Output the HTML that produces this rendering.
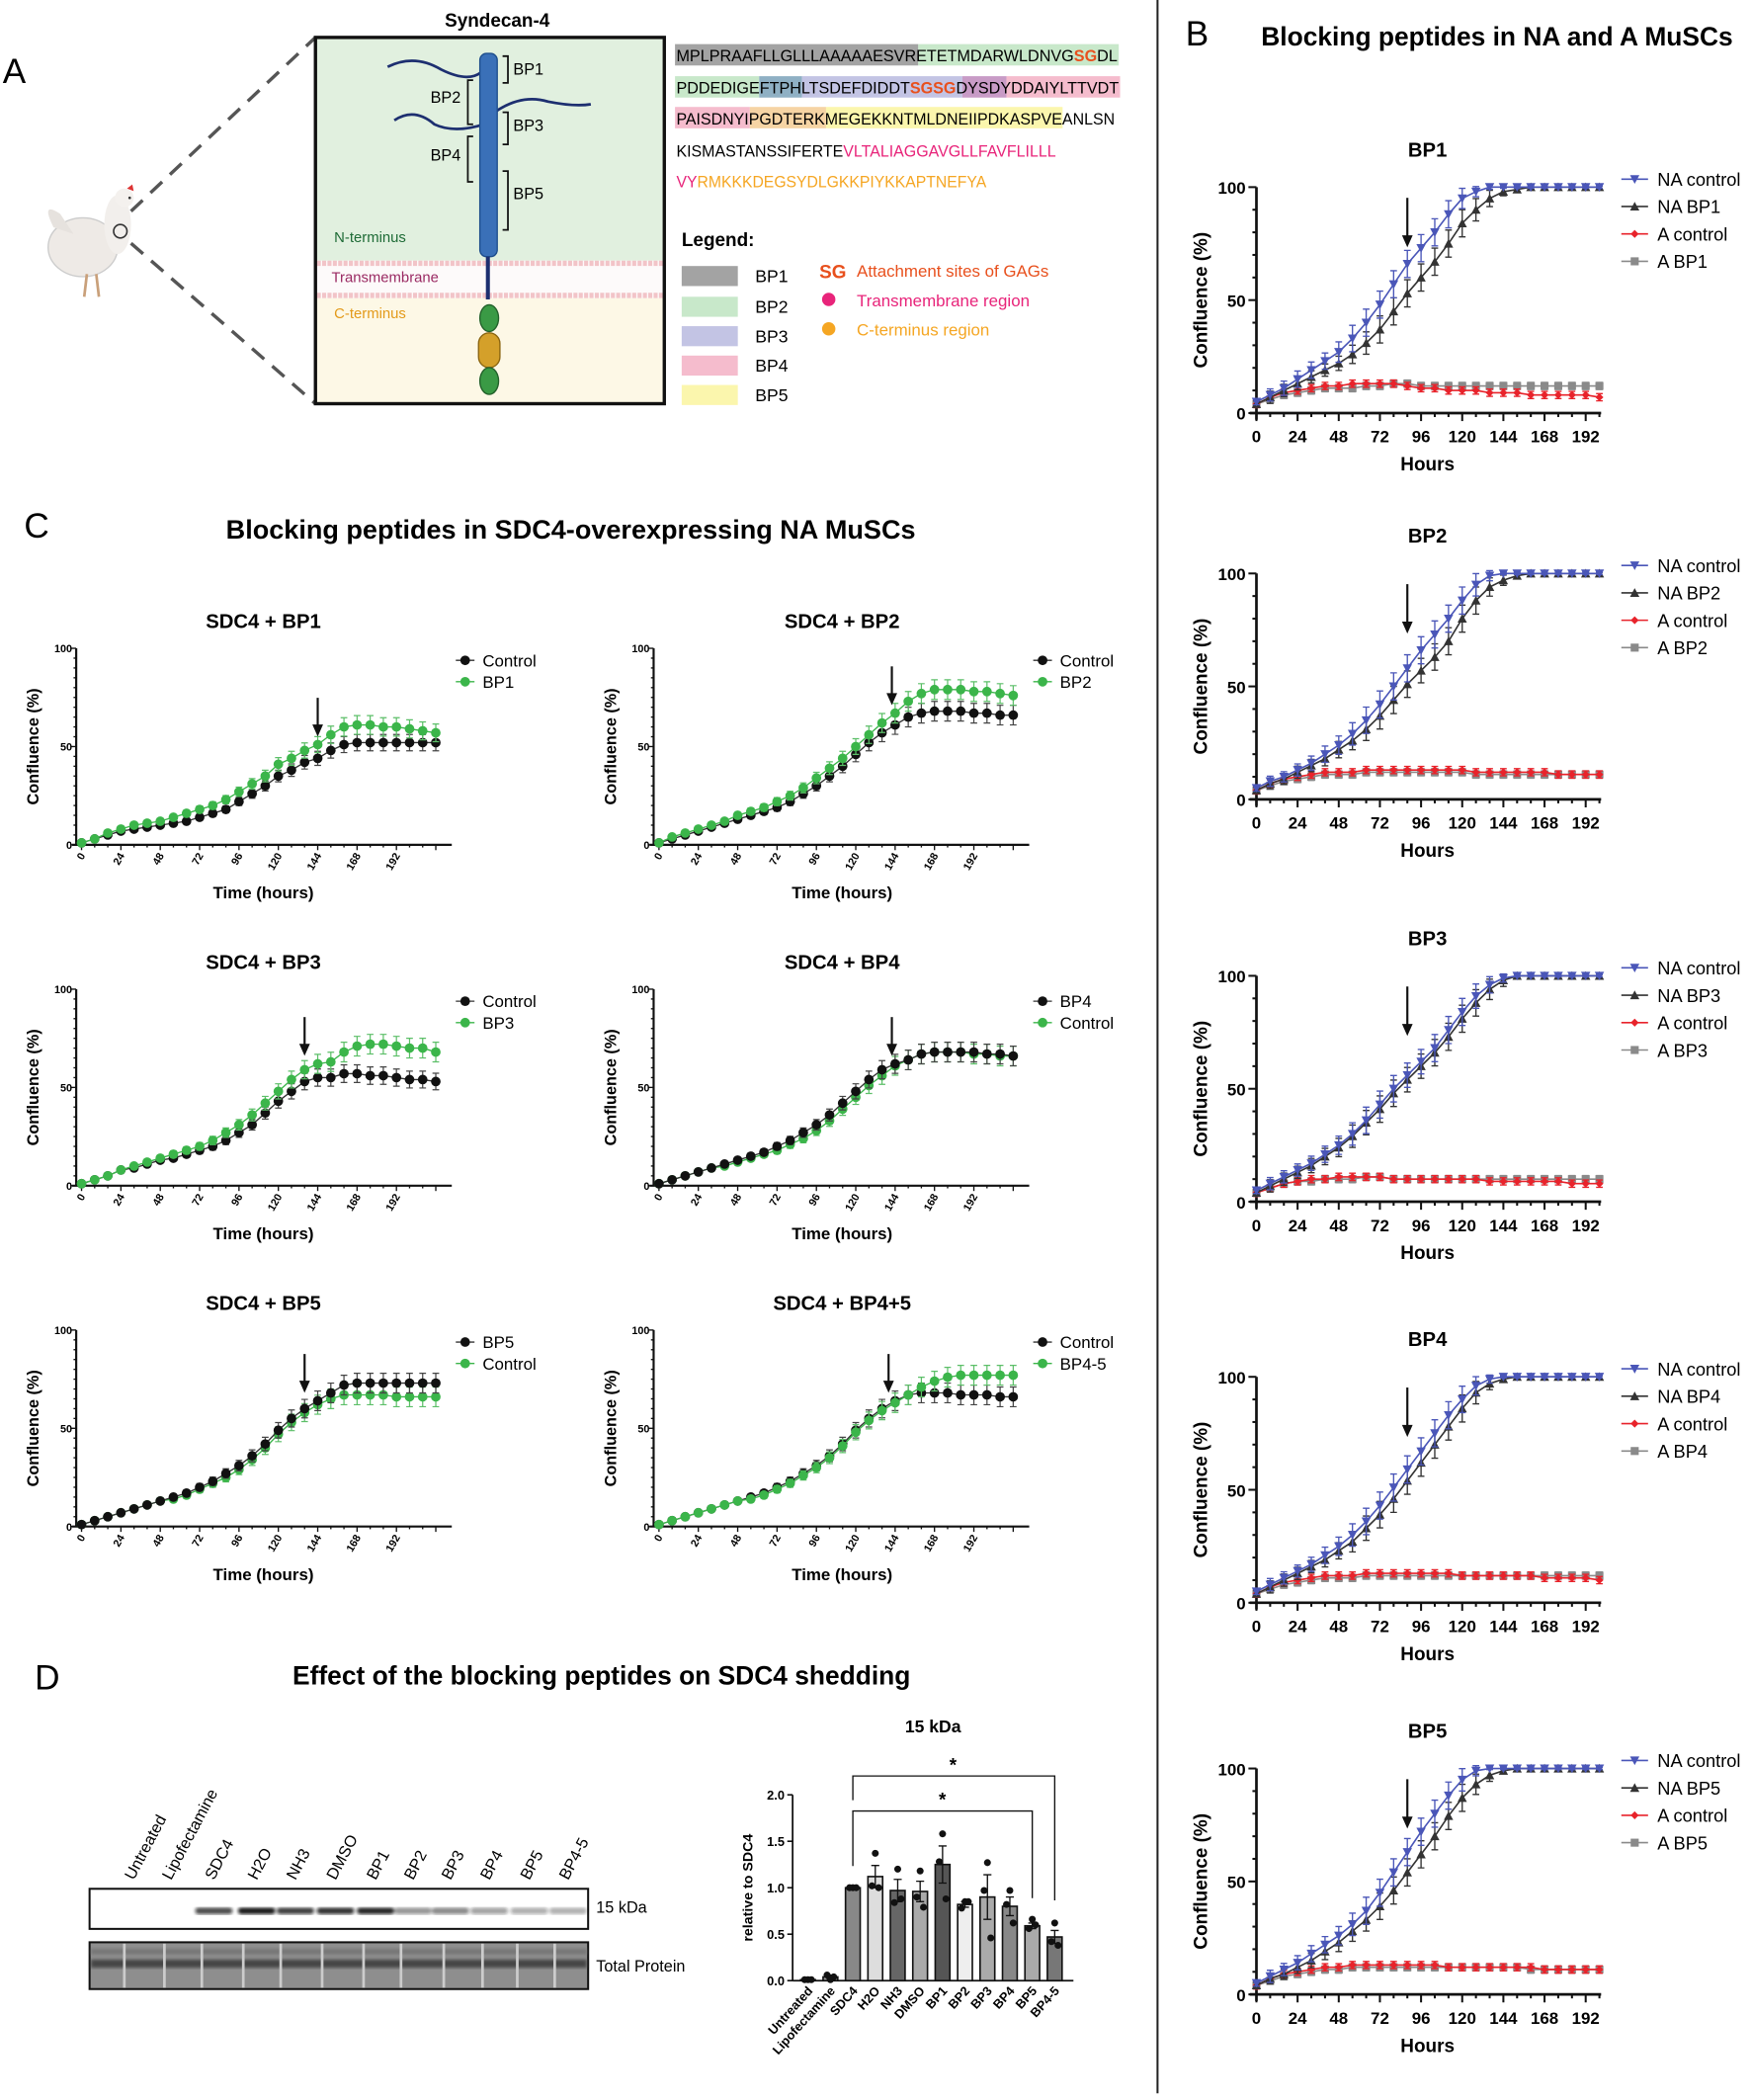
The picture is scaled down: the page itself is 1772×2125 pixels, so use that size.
<!DOCTYPE html>
<html><head><meta charset="utf-8"><style>
html,body{margin:0;padding:0;background:#fff}
svg{display:block}
text{font-family:"Liberation Sans",sans-serif}
</style></head><body>
<svg id="fig" xmlns="http://www.w3.org/2000/svg" width="1772" height="2125" viewBox="0 0 1310 1571">
<defs><filter id="blur"><feGaussianBlur stdDeviation="1.2"/></filter></defs>
<rect width="1310" height="1571" fill="#fff"/>
<text x="2" y="62" font-size="26">A</text>
<text x="887" y="34" font-size="26">B</text>
<text x="1120" y="34" font-size="19.5" font-weight="bold" text-anchor="middle">Blocking peptides in NA and A MuSCs</text>
<text x="18" y="402" font-size="26">C</text>
<text x="427" y="403" font-size="20" font-weight="bold" text-anchor="middle">Blocking peptides in SDC4-overexpressing NA MuSCs</text>
<text x="26" y="1264" font-size="26">D</text>
<text x="450" y="1260" font-size="19.5" font-weight="bold" text-anchor="middle">Effect of the blocking peptides on SDC4 shedding</text>
<line x1="866" y1="0" x2="866" y2="1566" stroke="#222" stroke-width="1.5"/>

<g>
 <g>
  <ellipse cx="62" cy="185" rx="26" ry="22" fill="#eeeae6" stroke="#ccc"/>
  <path d="M40 170 Q30 150 45 160 L55 175Z" fill="#e6e2de"/>
  <ellipse cx="88" cy="168" rx="10" ry="22" fill="#f2efec"/>
  <circle cx="93" cy="148" r="7" fill="#f4f1ee"/>
  <path d="M95 141 l4 -3 l1 5z" fill="#d33"/>
  <circle cx="97" cy="148" r="1" fill="#333"/>
  <line x1="65" y1="205" x2="63" y2="222" stroke="#c9a07a" stroke-width="2"/>
  <line x1="72" y1="205" x2="74" y2="222" stroke="#c9a07a" stroke-width="2"/>
  <circle cx="90" cy="173" r="5" fill="none" stroke="#333" stroke-width="1.2"/>
 </g>
 <line x1="98" y1="158" x2="236" y2="28" stroke="#555" stroke-width="2.5" stroke-dasharray="12,8"/>
 <line x1="98" y1="182" x2="236" y2="302" stroke="#555" stroke-width="2.5" stroke-dasharray="12,8"/>
 <text x="372" y="20" font-size="14" font-weight="bold" text-anchor="middle">Syndecan-4</text>
 <g>
  <rect x="236" y="28" width="261" height="167" fill="#e1f0df"/>
  <rect x="236" y="195" width="261" height="28" fill="#fdfafa"/>
  <rect x="236" y="223" width="261" height="79" fill="#fdf8e6"/>
  <line x1="237" y1="197" x2="496" y2="197" stroke="#f2c4c8" stroke-width="4" stroke-dasharray="3,1"/>
  <line x1="237" y1="221" x2="496" y2="221" stroke="#f2c4c8" stroke-width="4" stroke-dasharray="3,1"/>
  <rect x="236" y="28" width="261" height="274" fill="none" stroke="#111" stroke-width="2.5"/>
  <path d="M290 50 Q310 40 330 52 Q350 62 360 54" fill="none" stroke="#1d2f70" stroke-width="2"/>
  <path d="M295 90 Q310 80 325 93 Q340 100 362 93" fill="none" stroke="#1d2f70" stroke-width="2"/>
  <path d="M370 84 Q390 70 410 76 Q430 80 442 78" fill="none" stroke="#1d2f70" stroke-width="2"/>
  <rect x="359" y="40" width="13" height="152" rx="5" fill="#3a70b8" stroke="#1d4d8c"/>
  <line x1="365" y1="192" x2="365" y2="224" stroke="#1d2f70" stroke-width="3"/>
  <ellipse cx="366" cy="238" rx="7" ry="10" fill="#3a9a45" stroke="#22602a"/>
  <rect x="358" y="249" width="16" height="26" rx="8" fill="#d4a02a" stroke="#8a6410"/>
  <ellipse cx="366" cy="285" rx="7" ry="10" fill="#3a9a45" stroke="#22602a"/>
  <path d="M376 42 h4 v20 h-4" fill="none" stroke="#111" stroke-width="1.3"/>
  <text x="384" y="56" font-size="12">BP1</text>
  <path d="M354 60 h-4 v33 h4" fill="none" stroke="#111" stroke-width="1.3"/>
  <text x="322" y="77" font-size="12">BP2</text>
  <path d="M376 84 h4 v24 h-4" fill="none" stroke="#111" stroke-width="1.3"/>
  <text x="384" y="98" font-size="12">BP3</text>
  <path d="M354 102 h-4 v34 h4" fill="none" stroke="#111" stroke-width="1.3"/>
  <text x="322" y="120" font-size="12">BP4</text>
  <path d="M376 128 h4 v44 h-4" fill="none" stroke="#111" stroke-width="1.3"/>
  <text x="384" y="149" font-size="12">BP5</text>
  <text x="250" y="181" font-size="11" fill="#1e6b36">N-terminus</text>
  <text x="248" y="211" font-size="11" fill="#9a2a63">Transmembrane</text>
  <text x="250" y="238" font-size="11" fill="#e39a1a">C-terminus</text>
 </g>
 <g font-size="12.5">
  <rect x="505" y="33" width="182" height="16" fill="#a3a3a3"/>
  <rect x="687" y="33" width="150" height="16" fill="#c8e8ca"/>
  <rect x="505" y="57" width="63" height="16" fill="#c8e8ca"/>
  <rect x="568" y="57" width="32" height="16" fill="#8fb0c4"/>
  <rect x="600" y="57" width="120" height="16" fill="#c3c4e4"/>
  <rect x="720" y="57" width="33" height="16" fill="#c89bc6"/>
  <rect x="753" y="57" width="85" height="16" fill="#f5bccd"/>
  <rect x="505" y="80" width="56" height="16" fill="#f5bccd"/>
  <rect x="561" y="80" width="57" height="16" fill="#f6d4a4"/>
  <rect x="618" y="80" width="177" height="16" fill="#fbf6ad"/>
  <text x="506" y="46" textLength="330" lengthAdjust="spacingAndGlyphs">MPLPRAAFLLGLLLAAAAAESVRETETMDARWLDNVG<tspan fill="#e8501d" font-weight="bold">SG</tspan>DL</text>
  <text x="506" y="70" textLength="331" lengthAdjust="spacingAndGlyphs">PDDEDIGEFTPHLTSDEFDIDDT<tspan fill="#e8501d" font-weight="bold">SGSG</tspan>DYSDYDDAIYLTTVDT</text>
  <text x="506" y="93" textLength="328" lengthAdjust="spacingAndGlyphs">PAISDNYIPGDTERKMEGEKKNTMLDNEIIPDKASPVEANLSN</text>
  <text x="506" y="117" textLength="284" lengthAdjust="spacingAndGlyphs">KISMASTANSSIFERTE<tspan fill="#e8247a">VLTALIAGGAVGLLFAVFLILLL</tspan></text>
  <text x="506" y="140" textLength="232" lengthAdjust="spacingAndGlyphs"><tspan fill="#e8247a">VY</tspan><tspan fill="#f5a623">RMKKKDEGSYDLGKKPIYKKAPTNEFYA</tspan></text>
 </g>
 <g font-size="13">
  <text x="510" y="184" font-weight="bold" font-size="14">Legend:</text>
  <rect x="510" y="199" width="42" height="15" fill="#a3a3a3"/><text x="565" y="211">BP1</text>
  <rect x="510" y="222" width="42" height="15" fill="#c8e8ca"/><text x="565" y="234">BP2</text>
  <rect x="510" y="244" width="42" height="15" fill="#c3c4e4"/><text x="565" y="256">BP3</text>
  <rect x="510" y="266" width="42" height="15" fill="#f5bccd"/><text x="565" y="278">BP4</text>
  <rect x="510" y="288" width="42" height="15" fill="#fbf6ad"/><text x="565" y="300">BP5</text>
  <text x="613" y="208" fill="#e8501d" font-weight="bold" font-size="14">SG</text>
  <text x="641" y="207" fill="#e8501d" font-size="12.5">Attachment sites of GAGs</text>
  <circle cx="620" cy="224" r="5" fill="#e8247a"/><text x="641" y="229" fill="#e8247a" font-size="12.5">Transmembrane region</text>
  <circle cx="620" cy="246" r="5" fill="#f5a623"/><text x="641" y="251" fill="#f5a623" font-size="12.5">C-terminus region</text>
 </g>
</g>

<g>
 <g id="blotLabels" font-size="12"></g>
 <rect x="67" y="1413" width="373" height="30" fill="#fff" stroke="#111" stroke-width="1.5"/>
 <g id="bands" filter="url(#blur)"></g>
 <rect x="67" y="1453" width="373" height="35" fill="#8e8e8e" stroke="#111" stroke-width="1.5"/>
 <g filter="url(#blur)">
 <rect x="68" y="1466" width="371" height="6" fill="#333" opacity="0.8"/>
 <rect x="68" y="1458" width="371" height="4" fill="#666" opacity="0.6"/>
 </g>
 <g id="laneGaps"></g>
 <text x="446" y="1431" font-size="12">15 kDa</text>
 <text x="446" y="1475" font-size="12">Total Protein</text>
</g>
<g id="plots"></g>
</svg>
<script>
const hoursB = [0,8,16,24,32,40,48,56,64,72,80,88,96,104,112,120,128,136,144,152,160,168,176,184,192,200];
const bp1_naCtrl=[5,8,11,15,19,23,27,33,40,48,57,66,73,80,88,95,98,100,100,100,100,100,100,100,100,100];
const bp1_naBP=[4,7,10,13,16,19,22,26,31,37,45,53,60,67,75,84,90,95,98,99,100,100,100,100,100,100];
const bp1_aCtrl=[4,7,9,10,11,12,12,13,13,13,13,12,11,11,10,10,10,9,9,9,8,8,8,8,8,7];
const bp1_aBP=[4,6,8,9,10,11,11,11,12,12,13,13,12,12,12,12,12,12,12,12,12,12,12,12,12,12];
const bp2_naCtrl=[5,8,10,13,16,20,24,29,35,42,50,58,66,73,80,88,95,99,100,100,100,100,100,100,100,100];
const bp2_naBP=[4,7,9,12,15,18,22,26,31,37,44,51,57,63,70,80,88,94,97,99,100,100,100,100,100,100];
const bp2_aCtrl=[4,7,9,10,11,12,12,12,13,13,13,13,13,13,13,13,12,12,12,12,12,12,11,11,11,11];
const bp2_aBP=[4,6,8,9,10,11,11,11,12,12,12,12,12,12,12,12,11,11,11,11,11,11,11,11,11,11];
const bp3_naCtrl=[5,8,11,14,17,21,25,30,36,43,50,56,62,68,76,84,91,96,99,100,100,100,100,100,100,100];
const bp3_naBP=[4,7,10,13,16,20,24,29,35,41,48,54,60,66,73,81,88,94,98,100,100,100,100,100,100,100];
const bp3_aCtrl=[4,6,8,9,10,10,11,11,11,11,10,10,10,10,10,10,10,9,9,9,9,9,9,8,8,8];
const bp3_aBP=[4,6,8,9,9,10,10,10,11,11,10,10,10,10,10,10,10,10,10,10,10,10,10,10,10,10];
const bp4_naCtrl=[5,8,11,14,17,21,25,30,36,43,51,59,67,75,83,90,96,99,100,100,100,100,100,100,100,100];
const bp4_naBP=[4,7,10,13,16,19,23,27,33,39,46,54,62,70,78,86,93,97,99,100,100,100,100,100,100,100];
const bp4_aCtrl=[4,7,9,10,11,12,12,12,13,13,13,13,13,13,13,12,12,12,12,12,12,11,11,11,11,10];
const bp4_aBP=[4,6,8,9,10,11,11,11,12,12,12,12,12,12,12,12,12,12,12,12,12,12,12,12,12,12];
const bp5_naCtrl=[5,8,11,14,18,22,26,31,37,45,54,63,72,80,88,95,99,100,100,100,100,100,100,100,100,100];
const bp5_naBP=[4,7,9,12,15,19,23,28,33,39,46,54,62,70,79,87,93,97,99,100,100,100,100,100,100,100];
const bp5_aCtrl=[4,7,9,10,11,12,12,13,13,13,13,13,13,13,12,12,12,12,12,12,12,11,11,11,11,11];
const bp5_aBP=[4,6,8,9,10,11,11,12,12,12,12,12,12,12,12,12,12,12,12,12,11,11,11,11,11,11];
const bTitles=["BP1","BP2","BP3","BP4","BP5"];
const bTicks=[0,24,48,72,96,120,144,168,192];

const hoursC=[0,8,16,24,32,40,48,56,64,72,80,88,96,104,112,120,128,136,144,152,160,168,176,184,192,200,208,216];
const c1_black=[1,3,5,7,8,9,10,11,12,14,16,18,22,26,30,35,38,42,44,48,51,52,52,52,52,52,52,52];
const c1_green=[1,3,6,8,10,11,12,14,16,18,20,23,27,31,35,41,44,48,51,56,60,61,61,60,60,59,58,57];
const c2_black=[1,3,5,7,9,11,13,15,17,19,22,26,30,35,40,46,52,57,61,65,67,68,68,68,67,67,66,66];
const c2_green=[1,4,6,8,10,12,15,17,19,22,25,29,34,39,44,50,56,62,67,73,77,79,79,79,78,78,77,76];
const c3_black=[1,3,5,8,9,11,13,14,16,18,20,23,27,31,37,43,48,53,55,55,57,57,56,56,55,54,54,53];
const c3_green=[1,3,5,8,10,12,14,16,18,20,23,27,31,36,42,48,54,59,62,63,68,71,72,72,71,70,70,68];
const c4_black=[1,3,5,7,9,11,13,15,17,20,23,27,31,36,42,48,54,59,62,64,67,68,68,68,68,67,67,66];
const c4_green=[1,3,5,7,9,10,12,14,16,18,21,24,28,33,39,45,51,56,61,64,67,68,68,68,67,67,66,66];
const c5_black=[1,3,5,7,9,11,13,15,17,20,23,27,31,36,42,49,55,60,64,68,72,73,73,73,73,73,73,73];
const c5_green=[1,3,5,7,9,11,13,14,16,19,22,25,29,34,40,47,53,58,62,65,67,67,67,67,66,66,66,66];
const c6_black=[1,3,5,7,9,11,13,15,17,20,23,27,31,36,42,49,55,60,64,67,68,68,68,67,67,67,66,66];
const c6_green=[1,3,5,7,9,11,13,14,16,19,22,26,30,35,41,48,54,59,63,67,71,74,76,77,77,77,77,77];
const cTitles=["SDC4 + BP1","SDC4 + BP2","SDC4 + BP3","SDC4 + BP4","SDC4 + BP5","SDC4 + BP4+5"];
const cLegBlack=["Control","Control","Control","BP4","BP5","Control"];
const cLegGreen=["BP1","BP2","BP3","Control","Control","BP4-5"];
const cArrowHour=[144,142,136,142,136,140];
const cTicks=[0,24,48,72,96,120,144,168,192];

const dCategories=["Untreated","Lipofectamine","SDC4","H2O","NH3","DMSO","BP1","BP2","BP3","BP4","BP5","BP4-5"];
const dMeans=[0.01,0.04,1.0,1.12,0.97,0.96,1.25,0.82,0.9,0.8,0.59,0.47];
const dSem=[0,0.02,0.01,0.12,0.12,0.11,0.2,0.03,0.24,0.1,0.03,0.07];
const dPts1=[0.01,0.01,1.0,1.37,1.2,1.18,1.58,0.85,1.27,0.97,0.66,0.62];
const dPts2=[0.01,0.06,1.0,1.02,0.84,0.9,1.28,0.78,0.97,0.82,0.56,0.42];
const dPts3=[0.01,0.04,1.0,1.0,0.88,0.79,0.88,0.85,0.46,0.62,0.6,0.38];
const dShades=["#888","#999","#888","#ddd","#666","#aaa","#555","#eee","#aaa","#888","#aaa","#777"];
const dYTicks=[0,0.5,1.0,1.5,2.0];
const bandIntensity=[0,0,0.75,0.95,0.8,0.85,0.9,0.45,0.5,0.4,0.35,0.3];

const NS="http://www.w3.org/2000/svg";
const root=document.getElementById('plots');
function mk(tag,attrs,parent){const e=document.createElementNS(NS,tag);for(const k in attrs)e.setAttribute(k,attrs[k]);(parent||root).appendChild(e);return e;}
function txt(s,attrs,parent){const e=mk('text',attrs,parent);e.textContent=s;return e;}
function marker(shape,x,y,color,g){
  let e;
  if(shape==='down') e=mk('path',{d:`M${x-3.5} ${y-3} L${x+3.5} ${y-3} L${x} ${y+3.5}Z`,fill:color},g);
  else if(shape==='up') e=mk('path',{d:`M${x-3.5} ${y+3} L${x+3.5} ${y+3} L${x} ${y-3.5}Z`,fill:color},g);
  else if(shape==='diamond') e=mk('path',{d:`M${x} ${y-3} L${x+3} ${y} L${x} ${y+3} L${x-3} ${y}Z`,fill:color},g);
  else if(shape==='square') e=mk('rect',{x:x-3,y:y-3,width:6,height:6,fill:color},g);
  else e=mk('circle',{cx:x,cy:y,r:3.6,fill:color},g);
  return e;
}
function arrow(x,y1,y2,g){
  mk('line',{x1:x,y1:y1,x2:x,y2:y2-6,stroke:'#111','stroke-width':1.6},g);
  mk('path',{d:`M${x-4} ${y2-9} L${x+4} ${y2-9} L${x} ${y2}Z`,fill:'#111'},g);
}

const bTops=[140,429,730,1030,1323];
const bSeries=[[bp1_naCtrl,bp1_naBP,bp1_aCtrl,bp1_aBP],[bp2_naCtrl,bp2_naBP,bp2_aCtrl,bp2_aBP],[bp3_naCtrl,bp3_naBP,bp3_aCtrl,bp3_aBP],[bp4_naCtrl,bp4_naBP,bp4_aCtrl,bp4_aBP],[bp5_naCtrl,bp5_naBP,bp5_aCtrl,bp5_aBP]];
const bColors=["#4a56b8","#333","#e8232b","#8a8a8a"];
const bShapes=["down","up","diamond","square"];
bTitles.forEach((t,pi)=>{
  const g=mk('g',{});
  
  
  const y100=bTops[pi], y0=y100+169, X0=940, kx=1.283;
  const X=h=>X0+h*kx, Y=v=>y0-(v/100)*(y0-y100);
  const tt=txt(t,{x:1068,y:y100-23,'font-size':15,'font-weight':'bold','text-anchor':'middle'},g);
  
  
  mk('line',{x1:X0,y1:y100,x2:X0,y2:y0+5,stroke:'#111','stroke-width':2},g);
  mk('line',{x1:X0-5,y1:y0,x2:X(201),y2:y0,stroke:'#111','stroke-width':2},g);
  for(let v=0;v<=100;v+=10){mk('line',{x1:X0-(v%50?3:6),y1:Y(v),x2:X0,y2:Y(v),stroke:'#111','stroke-width':1.5},g);}
  [0,50,100].forEach(v=>txt(String(v),{x:X0-8,y:Y(v)+5,'font-size':12.5,'font-weight':'bold','text-anchor':'end'},g));
  for(let h=0;h<=200;h+=8){mk('line',{x1:X(h),y1:y0,x2:X(h),y2:y0+(h%24?3:6),stroke:'#111','stroke-width':1.5},g);}
  bTicks.forEach(h=>txt(String(h),{x:X(h),y:y0+22,'font-size':12.5,'font-weight':'bold','text-anchor':'middle'},g));
  const xl=txt('Hours',{x:1068,y:y0+43,'font-size':14,'font-weight':'bold','text-anchor':'middle'},g);
  
  
  const yl=txt('Confluence (%)',{x:0,y:0,'font-size':14,'font-weight':'bold','text-anchor':'middle',transform:`translate(903,${(y0+y100)/2}) rotate(-90)`},g);
  
  
  [3,2,1,0].forEach(si=>{
    const vals=bSeries[pi][si];
    const sg=mk('g',{},g);
    
    
    mk('polyline',{points:vals.map((v,i)=>X(hoursB[i])+','+Y(v)).join(' '),fill:'none',stroke:bColors[si],'stroke-width':1.2},sg);
    vals.forEach((v,i)=>{
      const e = si<2 ? Math.min(6,Math.max(0.5,(vals[Math.min(i+1,vals.length-1)]-vals[Math.max(i-1,0)])*0.45)) : 1.6;
      const x=X(hoursB[i]);
      mk('path',{d:`M${x} ${Y(v+e)} V${Y(v-e)} M${x-2.5} ${Y(v+e)} h5 M${x-2.5} ${Y(v-e)} h5`,stroke:bColors[si],'stroke-width':1,fill:'none'},sg);
      const m=marker(bShapes[si],x,Y(v),bColors[si],sg);
      
      
    });
  });
  arrow(X(88),y100+8,y100+45,g);
  const names=["NA control","NA "+t," A control","A "+t];
  if(pi>0) names[2]="A control";
  names.forEach((n,k)=>{
    const ly=y100-6+k*20.5;
    const lg=mk('g',{},g);
    
    
    mk('line',{x1:1213,y1:ly,x2:1233,y2:ly,stroke:bColors[k],'stroke-width':1.2},lg);
    marker(bShapes[k],1223,ly,bColors[k],lg);
    txt(n,{x:1240,y:ly+5,'font-size':13.5},lg);
  });
});

const cSeries=[[c1_black,c1_green],[c2_black,c2_green],[c3_black,c3_green],[c4_black,c4_green],[c5_black,c5_green],[c6_black,c6_green]];
const cTops=[485,740,995];
cTitles.forEach((t,pi)=>{
  const col=pi%2,row=Math.floor(pi/2);
  const g=mk('g',{});
  
  
  const AX=col?489:57, X0=AX+4, kx=1.227;
  const y100=cTops[row], y0=y100+147;
  const X=h=>X0+h*kx, Y=v=>y0-(v/100)*(y0-y100);
  const cx=col?630:197;
  const tt=txt(t,{x:cx,y:y100-15,'font-size':15,'font-weight':'bold','text-anchor':'middle'},g);
  
  
  mk('line',{x1:AX,y1:y100,x2:AX,y2:y0,stroke:'#111','stroke-width':1.6},g);
  mk('line',{x1:AX-3,y1:y0,x2:AX+281,y2:y0,stroke:'#111','stroke-width':1.6},g);
  for(let v=0;v<=100;v+=5){mk('line',{x1:AX-(v%50?2:4),y1:Y(v),x2:AX,y2:Y(v),stroke:'#111','stroke-width':1},g);}
  [0,50,100].forEach(v=>txt(String(v),{x:AX-3,y:Y(v)+3,'font-size':8,'font-weight':'bold','text-anchor':'end'},g));
  for(let h=0;h<=216;h+=8){mk('line',{x1:X(h),y1:y0,x2:X(h),y2:y0+(h%24?2:4),stroke:'#111','stroke-width':1},g);}
  cTicks.forEach(h=>txt(String(h),{x:0,y:0,'font-size':8,'font-weight':'bold','text-anchor':'end',transform:`translate(${X(h)+3},${y0+8}) rotate(-60)`},g));
  const xl=txt('Time (hours)',{x:cx,y:y0+40,'font-size':12.5,'font-weight':'bold','text-anchor':'middle'},g);
  
  
  const yl=txt('Confluence (%)',{x:0,y:0,'font-size':12,'font-weight':'bold','text-anchor':'middle',transform:`translate(${AX-28},${(y0+y100)/2}) rotate(-90)`},g);
  
  
  const cols=["#111","#3bb54a"];
  const order = (pi===3||pi===4)?[1,0]:[0,1];
  [order[0],order[1]].forEach(si=>{
    const vals=cSeries[pi][si];
    const sg=mk('g',{},g);
    
    
    mk('polyline',{points:vals.map((v,i)=>X(hoursC[i])+','+Y(v)).join(' '),fill:'none',stroke:si?'#3bb54a':'#333','stroke-width':1},sg);
    vals.forEach((v,i)=>{
      const e=Math.min(5,0.5+v*0.07);
      const x=X(hoursC[i]);
      mk('path',{d:`M${x} ${Y(v+e)} V${Y(v-e)} M${x-2.5} ${Y(v+e)} h5 M${x-2.5} ${Y(v-e)} h5`,stroke:si?'#5cbf68':'#444','stroke-width':0.9,fill:'none'},sg);
      const m=marker('circle',x,Y(v),cols[si],sg);
      
      
    });
  });
  arrow(X(cArrowHour[pi]),Y(Math.max(cSeries[pi][0][18],cSeries[pi][1][18]))-35,Y(Math.max(cSeries[pi][0][18],cSeries[pi][1][18]))-6,g);
  const lx=col?780:348;
  [[cLegBlack[pi],0],[cLegGreen[pi],1]].forEach(([n,k],j)=>{
    const ly=y100+9+j*16;
    const lg=mk('g',{},g);
    
    
    mk('line',{x1:lx-7,y1:ly,x2:lx+7,y2:ly,stroke:k?'#3bb54a':'#333','stroke-width':1},lg);
    marker('circle',lx,ly,cols[k],lg);
    txt(n,{x:lx+13,y:ly+4.5,'font-size':12.5},lg);
  });
});

const laneX=[100,128,160,192,221,251,281,309,337,366,396,425];
const bl=document.getElementById('blotLabels');
dCategories.forEach((c,i)=>{
  const e=txt(c,{x:0,y:0,transform:`translate(${laneX[i]},1407) rotate(-62)`,'font-size':12},bl);
  
  
});
const bandsG=document.getElementById('bands');
bandIntensity.forEach((v,i)=>{
  if(v<=0) return;
  const b=mk('rect',{x:laneX[i]-14,y:1427,width:28,height:5,rx:2.5,fill:'#111',opacity:v},bandsG);
  
  
});
const gaps=document.getElementById('laneGaps');
[92,122,150,181,209,240,271,299,331,360,386,414].forEach(x=>mk('rect',{x:x,y:1454,width:2,height:33,fill:'#ccc'},gaps));

(function(){
  const g=mk('g',{});
  
  
  const AX=593, y0=1481.7, y2=1342.7;
  const Y=v=>y0-(v/2)*(y0-y2);
  const X=i=>604.5+i*16.78;
  const tt=txt('15 kDa',{x:698,y:1296,'font-size':13,'font-weight':'bold','text-anchor':'middle'},g);
  
  
  mk('line',{x1:AX,y1:y2,x2:AX,y2:y0,stroke:'#111','stroke-width':1.3},g);
  mk('line',{x1:AX,y1:y0,x2:X(11)+14,y2:y0,stroke:'#111','stroke-width':1.3},g);
  dYTicks.forEach(v=>{
    mk('line',{x1:AX-4,y1:Y(v),x2:AX,y2:Y(v),stroke:'#111','stroke-width':1.2},g);
    txt(v.toFixed(1),{x:AX-6,y:Y(v)+3.5,'font-size':9.5,'font-weight':'bold','text-anchor':'end'},g);
  });
  const yl=txt('relative to SDC4',{x:0,y:0,'font-size':10.5,'font-weight':'bold','text-anchor':'middle',transform:`translate(563,${Y(1)}) rotate(-90)`},g);
  
  
  dCategories.forEach((c,i)=>{
    const x=X(i), m=dMeans[i];
    const b=mk('rect',{x:x-5.5,y:Y(m),width:11,height:y0-Y(m),fill:dShades[i],stroke:'#111','stroke-width':1.2},g);
    
    
    if(dSem[i]>0.015) mk('path',{d:`M${x} ${Y(m-dSem[i])} V${Y(m+dSem[i])} M${x-3} ${Y(m+dSem[i])} h6 M${x-3} ${Y(m-dSem[i])} h6`,stroke:'#111','stroke-width':1,fill:'none'},g);
    [[dPts1[i],0],[dPts2[i],-2.5],[dPts3[i],2.5]].forEach(([v,dx])=>{
      const p=mk('circle',{cx:x+dx,cy:Y(v),r:2.6,fill:'#111'},g);
      
      
    });
    const l=txt(c,{x:0,y:0,'font-size':9.5,'font-weight':'bold','text-anchor':'end',transform:`translate(${x+4},${y0+8}) rotate(-48)`},g);
    
    
  });
  const br=mk('g',{},g);
  
  
  mk('path',{d:`M${X(2)} 1346.7 V1328.6 H${X(11)} V1421.7`,fill:'none',stroke:'#111','stroke-width':1},br);
  mk('path',{d:`M${X(2)} 1396 V1354.8 H${X(10)} V1420`,fill:'none',stroke:'#111','stroke-width':1},br);
  txt('*',{x:713,y:1325,'font-size':14,'font-weight':'bold','text-anchor':'middle'},br);
  txt('*',{x:705,y:1351,'font-size':14,'font-weight':'bold','text-anchor':'middle'},br);
})();
</script>
</body></html>
